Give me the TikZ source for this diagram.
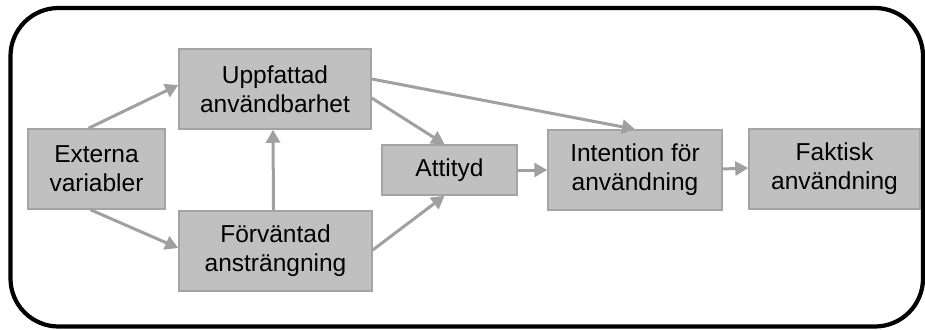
\documentclass[tikz,border=0pt]{standalone}
\usepackage{fontspec}
\setmainfont{Liberation Sans}
\usetikzlibrary{arrows.meta}
\definecolor{boxfill}{HTML}{C0C0C0}
\definecolor{boxline}{HTML}{A4A4A4}
\definecolor{arr}{HTML}{A0A0A0}
\begin{document}
\begin{tikzpicture}[x=1pt,y=-1pt,
  box/.style={draw=boxline, fill=boxfill, line width=1.5pt, inner sep=0pt, align=center,
    font=\fontsize{24.5}{29}\selectfont, text=black},
  conn/.style={draw=arr, line width=3pt, -{Triangle[length=13pt,width=14pt]}}]
\useasboundingbox (0,0) rectangle (925,329);
\draw[line width=4.2pt, rounded corners=48pt] (10.5,8) rectangle (923,326.5);
\node[box, minimum width=137pt, minimum height=80pt] (ext) at (96.5,169) {Externa\\variabler};
\node[box, minimum width=192pt, minimum height=80pt] (upp) at (275,89) {Uppfattad\\användbarhet};
\node[box, minimum width=193pt, minimum height=80pt] (forv) at (275.5,251) {Förväntad\\ansträngning};
\node[box, minimum width=135pt, minimum height=50pt] (att) at (449.5,170) {Attityd};
\node[box, minimum width=174pt, minimum height=80pt] (int) at (635,170) {Intention för\\användning};
\node[box, minimum width=171pt, minimum height=80pt] (fak) at (834.5,169) {Faktisk\\användning};
\draw[conn] ([xshift=-8pt]ext.north) -- ([yshift=4pt]upp.west);
\draw[conn] ([xshift=-6pt]ext.south) -- ([yshift=3pt]forv.west);
\draw[conn] ([xshift=-2pt]forv.north) -- ([xshift=-2pt]upp.south);
\draw[conn] ([yshift=-9pt]upp.east) -- ([xshift=-5pt]att.north);
\draw[conn] ([yshift=1pt]forv.east) -- ([xshift=-5pt]att.south);
\draw[conn] ([yshift=10pt]upp.east) -- (int.north);
\draw[conn] (att.east) -- (int.west);
\draw[conn] ([yshift=1pt]int.east) -- ([yshift=1pt]fak.west);
\end{tikzpicture}
\end{document}
